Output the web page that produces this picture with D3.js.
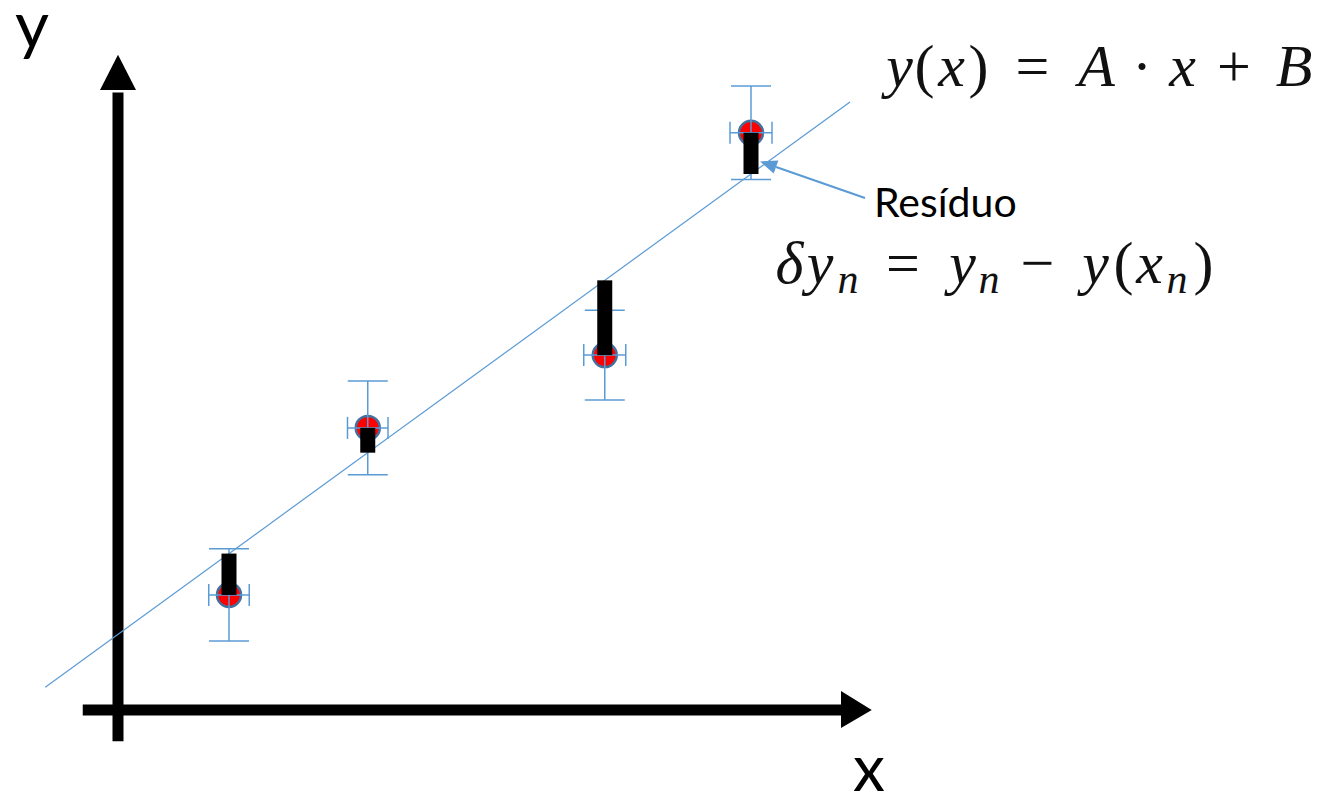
<!DOCTYPE html>
<html>
<head>
<meta charset="utf-8">
<script src="https://cdn.jsdelivr.net/npm/d3@7"></script>
<style>
  html, body { margin: 0; padding: 0; background: #fff; }
  svg { display: block; }
  .math { font-family: "Liberation Serif", "Times New Roman", serif; }
</style>
</head>
<body>
<svg id="chart" width="1325" height="798"></svg>
<script>
// Measured points (x_n, y_n) with their uncertainties
const xValues = [1.48, 3.33, 6.49, 8.44];
const yValues = [1.77, 4.34, 5.46, 8.88];
const xErrors = [0.27, 0.27, 0.28, 0.28];
const yErrors = [0.71, 0.72, 0.69, 0.72];

// Fitted straight line y(x) = A·x + B
const slopeA = 0.839;
const interceptB = 1.165;
const lineRange = [-0.97, 9.76];

const axisLabels = ["x", "y"];
const residualLabel = "Resíduo";

const svg = d3.select("#chart");

const x = d3.scaleLinear().domain([0, 10]).range([118, 868]);
const y = d3.scaleLinear().domain([0, 10]).range([710, 60]);
const fit = v => slopeA * v + interceptB;

const BLUE = "#5B9BD5";

const points = xValues.map((v, i) => ({
  x: v, y: yValues[i], ex: xErrors[i], ey: yErrors[i]
}));

// ---- axes (thick arrows crossing at the origin) ----
const axisG = svg.append("g");
const AX = 11;
axisG.append("line")
  .attr("x1", x(-0.47)).attr("x2", x(9.7))
  .attr("y1", y(0)).attr("y2", y(0))
  .attr("stroke", "#000").attr("stroke-width", AX);
axisG.append("path")
  .attr("d", `M${x(9.64)},${y(0) - 19} L${x(10.05)},${y(0)} L${x(9.64)},${y(0) + 18} Z`)
  .attr("fill", "#000");
axisG.append("line")
  .attr("x1", x(0)).attr("x2", x(0))
  .attr("y1", y(-0.48)).attr("y2", y(9.5))
  .attr("stroke", "#000").attr("stroke-width", AX);
axisG.append("path")
  .attr("d", `M${x(0) - 18},${y(9.54)} L${x(0)},${y(10.08)} L${x(0) + 18},${y(9.54)} Z`)
  .attr("fill", "#000");

// axis names
svg.append("text")
  .attr("x", 15).attr("y", 48)
  .attr("font-family", "Lato, 'Open Sans', sans-serif")
  .attr("font-size", 66)
  .text(axisLabels[1]);
svg.append("text")
  .attr("x", 853).attr("y", 791)
  .attr("font-family", "Lato, 'Open Sans', sans-serif")
  .attr("font-size", 64)
  .text(axisLabels[0]);

// ---- fitted line ----
svg.append("line")
  .attr("x1", x(lineRange[0])).attr("y1", y(fit(lineRange[0])))
  .attr("x2", x(lineRange[1])).attr("y2", y(fit(lineRange[1])))
  .attr("stroke", BLUE).attr("stroke-width", 1.2);

// ---- data points ----
const ptG = svg.append("g").selectAll("g").data(points).join("g");

ptG.append("circle")
  .attr("cx", d => x(d.x)).attr("cy", d => y(d.y))
  .attr("r", 12)
  .attr("fill", "#FF0000")
  .attr("stroke", "#41719C").attr("stroke-width", 2.5);

// vertical error bars with caps
ptG.append("line")
  .attr("x1", d => x(d.x)).attr("x2", d => x(d.x))
  .attr("y1", d => y(d.y - d.ey)).attr("y2", d => y(d.y + d.ey))
  .attr("stroke", BLUE).attr("stroke-width", 1.5);
ptG.selectAll("line.ycap").data(d => [[d, d.y - d.ey], [d, d.y + d.ey]]).join("line")
  .attr("class", "ycap")
  .attr("x1", ([d]) => x(d.x) - 20).attr("x2", ([d]) => x(d.x) + 20)
  .attr("y1", ([, v]) => y(v)).attr("y2", ([, v]) => y(v))
  .attr("stroke", BLUE).attr("stroke-width", 1.5);

// horizontal error bars with caps
ptG.append("line")
  .attr("x1", d => x(d.x - d.ex)).attr("x2", d => x(d.x + d.ex))
  .attr("y1", d => y(d.y)).attr("y2", d => y(d.y))
  .attr("stroke", BLUE).attr("stroke-width", 1.5);
ptG.selectAll("line.xcap").data(d => [[d, d.x - d.ex], [d, d.x + d.ex]]).join("line")
  .attr("class", "xcap")
  .attr("x1", ([, v]) => x(v)).attr("x2", ([, v]) => x(v))
  .attr("y1", ([d]) => y(d.y) - 11).attr("y2", ([d]) => y(d.y) + 11)
  .attr("stroke", BLUE).attr("stroke-width", 1.5);

// residual bars: from y_n to y(x_n)
ptG.append("rect")
  .attr("x", d => x(d.x) - 7.5)
  .attr("width", 15)
  .attr("y", d => Math.min(y(d.y), y(fit(d.x))))
  .attr("height", d => Math.abs(y(d.y) - y(fit(d.x))))
  .attr("fill", "#000");

// ---- annotation arrow to the last residual ----
const last = points[points.length - 1];
const tipX = x(last.x) + 9, tipY = (y(last.y) + y(fit(last.x))) / 2 + 8;
const fromX = 865, fromY = 198;
const ang = Math.atan2(tipY - fromY, tipX - fromX);
const headL = 17, headW = 7;
const bx = tipX - headL * Math.cos(ang), by = tipY - headL * Math.sin(ang);
svg.append("line")
  .attr("x1", fromX).attr("y1", fromY).attr("x2", bx).attr("y2", by)
  .attr("stroke", BLUE).attr("stroke-width", 2);
svg.append("path")
  .attr("d", `M${tipX},${tipY} L${bx + headW * Math.sin(ang)},${by - headW * Math.cos(ang)} L${bx - headW * Math.sin(ang)},${by + headW * Math.cos(ang)} Z`)
  .attr("fill", BLUE);

svg.append("text")
  .attr("x", 874).attr("y", 217)
  .attr("font-family", "Lato, 'Open Sans', sans-serif")
  .attr("font-size", 41)
  .text(residualLabel);

// ---- formulas ----
// Each token is centred on the horizontal slot [left, right] it occupies.
function formula(tokens, baseline, size) {
  const t = svg.append("text")
    .attr("class", "math")
    .attr("font-size", size)
    .attr("fill", "#111");
  tokens.forEach(([s, left, right, it, sub]) => {
    const sp = t.append("tspan")
      .attr("y", baseline + (sub ? 10 : 0))
      .attr("font-style", it ? "italic" : "normal")
      .attr("font-size", sub ? size * 0.7 : size)
      .text(s);
    const w = sp.node().getComputedTextLength();
    sp.attr("x", (left + right) / 2 - w / 2);
  });
}
formula([
  ["y", 882, 917, true], ["(", 917, 932, false], ["x", 935, 968, true], [")", 970, 987, false],
  ["=", 1012, 1053, false], ["A", 1075, 1118, true], ["·", 1137, 1147, false], ["x", 1165, 1200, true],
  ["+", 1213, 1255, false], ["B", 1273, 1315, true]
], 86, 60);
formula([
  ["δ", 777, 802, true], ["y", 802, 838, true], ["n", 838, 858, true, true],
  ["=", 883, 923, false], ["y", 945, 980, true], ["n", 980, 998, true, true],
  ["−", 1017, 1058, false], ["y", 1078, 1113, true], ["(", 1115, 1132, false],
  ["x", 1133, 1166, true], ["n", 1167, 1187, true, true], [")", 1195, 1212, false]
], 283, 60);
</script>
</body>
</html>
